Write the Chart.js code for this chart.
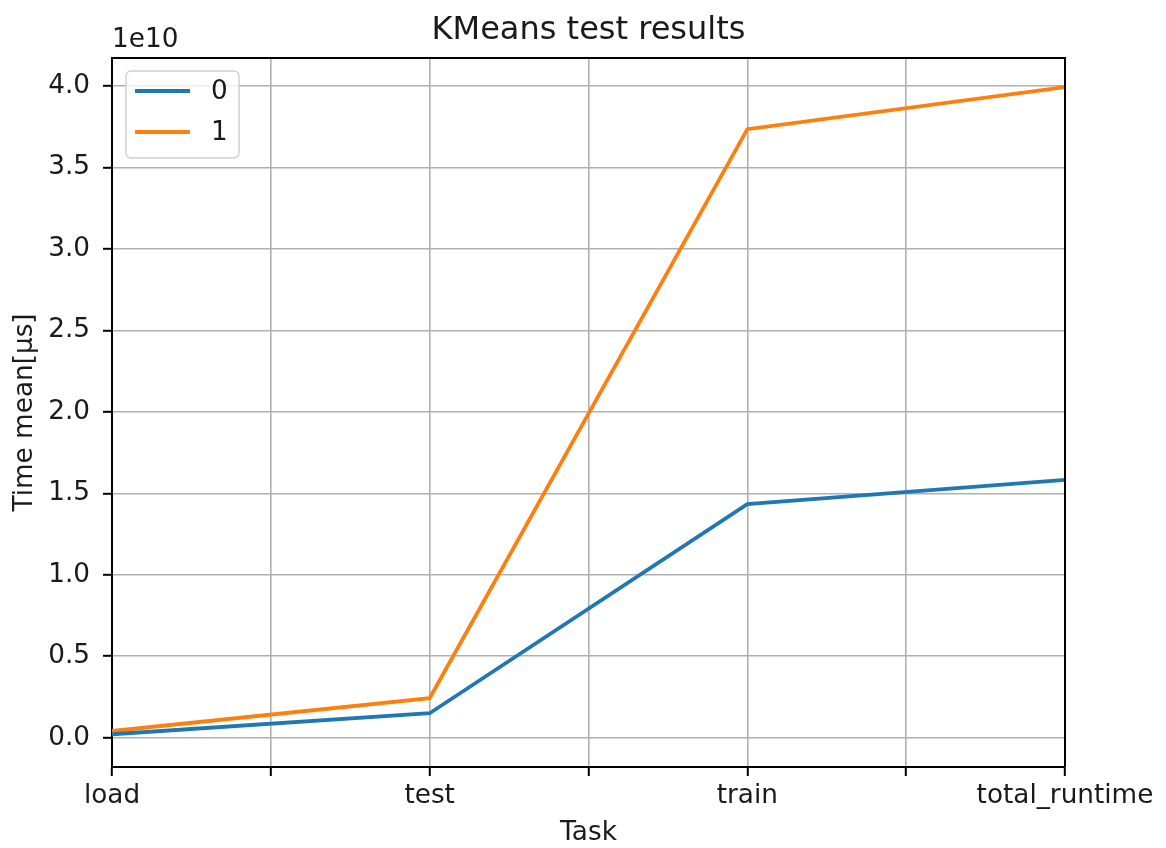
<!DOCTYPE html>
<html>
<head>
<meta charset="utf-8">
<title>KMeans test results</title>
<script src="https://cdn.jsdelivr.net/npm/chart.js@4/dist/chart.umd.min.js"></script>
<style>
  html, body { margin: 0; padding: 0; background: #fff; }
  #wrap { width: 1166px; height: 848px; }
</style>
</head>
<body>
<div id="wrap"><canvas id="kmeansChart" width="1166" height="848"></canvas></div>
<script>
// ── Data ────────────────────────────────────────────────────
const tasks      = ["load", "test", "train", "total_runtime"];
const xTicks     = [0, 0.5, 1, 1.5, 2, 2.5, 3];
const yTicks     = [0, 0.5e10, 1e10, 1.5e10, 2e10, 2.5e10, 3e10, 3.5e10, 4e10];
const series0    = [2.1e8, 1.50e9, 1.433e10, 1.582e10];
const series1    = [4.1e8, 2.42e9, 3.735e10, 3.993e10];
const seriesNames = ["0", "1"];

const FONT = "DejaVu Sans";
const TEXT = "#1a1a1a";
const GRID = "#b0b0b0";
const FS   = 26.3;

const toPoints = vals => vals.map((v, i) => ({ x: i, y: v }));

// ── Extras: title, offset text, full frame, legend box ──────
const mplExtras = {
  id: "mplExtras",
  afterDatasetsDraw(chart) {
    const { ctx, chartArea: a } = chart;
    ctx.save();

    // frame (top + right spines)
    ctx.strokeStyle = "#000";
    ctx.lineWidth = 2;
    ctx.beginPath();
    ctx.moveTo(a.left, a.top);
    ctx.lineTo(a.right, a.top);
    ctx.lineTo(a.right, a.bottom);
    ctx.stroke();

    // title
    ctx.fillStyle = TEXT;
    ctx.font = `32px "${FONT}"`;
    ctx.textAlign = "center";
    ctx.textBaseline = "alphabetic";
    ctx.fillText("KMeans test results", (a.left + a.right) / 2, a.top - 19);

    // offset text
    ctx.font = `${FS}px "${FONT}"`;
    ctx.textAlign = "left";
    ctx.fillText("1e10", a.left, a.top - 11);

    // legend
    const bx = a.left + 14, by = a.top + 13, bw = 113, bh = 87;
    ctx.fillStyle = "rgba(255,255,255,0.8)";
    ctx.strokeStyle = "#d0d0d0";
    ctx.lineWidth = 1.5;
    ctx.beginPath();
    ctx.roundRect(bx, by, bw, bh, 5);
    ctx.fill();
    ctx.stroke();

    chart.data.datasets.forEach((ds, i) => {
      const y = by + 20 + i * 41;
      ctx.strokeStyle = ds.borderColor;
      ctx.lineWidth = 3.8;
      ctx.beginPath();
      ctx.moveTo(bx + 9, y);
      ctx.lineTo(bx + 64, y);
      ctx.stroke();
      ctx.fillStyle = TEXT;
      ctx.font = `${FS}px "${FONT}"`;
      ctx.textAlign = "left";
      ctx.textBaseline = "middle";
      ctx.fillText(ds.label, bx + 85, y + 1);
    });

    ctx.restore();
  }
};

new Chart(document.getElementById("kmeansChart"), {
  type: "line",
  data: {
    datasets: [
      {
        label: seriesNames[0],
        data: toPoints(series0),
        borderColor: "#1f77b4",
        borderWidth: 3.8,
        pointRadius: 0,
        tension: 0,
        fill: false
      },
      {
        label: seriesNames[1],
        data: toPoints(series1),
        borderColor: "#ff7f0e",
        borderWidth: 3.8,
        pointRadius: 0,
        tension: 0,
        fill: false
      }
    ]
  },
  options: {
    responsive: false,
    animation: false,
    layout: { padding: { top: 58, right: 101, left: 0, bottom: 0 } },
    plugins: {
      legend: { display: false },
      title: { display: false },
      tooltip: { enabled: false }
    },
    scales: {
      x: {
        type: "linear",
        min: 0,
        max: 3,
        afterBuildTicks: s => { s.ticks = xTicks.map(v => ({ value: v })); },
        afterFit: s => { s.height = 81; },
        grid: { color: GRID, lineWidth: 1.6, tickLength: 9, tickColor: "#000", tickWidth: 2 },
        border: { color: "#000", width: 2 },
        ticks: {
          autoSkip: false,
          maxRotation: 0,
          padding: 4,
          color: TEXT,
          font: { family: FONT, size: FS },
          callback: v => Number.isInteger(v) ? tasks[v] : ""
        },
        title: {
          display: true,
          text: "Task",
          color: TEXT,
          font: { family: FONT, size: FS },
          padding: { top: 0, bottom: -1 }
        }
      },
      y: {
        min: -0.18e10,
        max: 4.172e10,
        afterBuildTicks: s => { s.ticks = yTicks.map(v => ({ value: v })); },
        afterFit: s => { s.width = 112; },
        grid: { color: GRID, lineWidth: 1.6, tickLength: 9, tickColor: "#000", tickWidth: 2 },
        border: { color: "#000", width: 2 },
        ticks: {
          padding: 13,
          color: TEXT,
          font: { family: FONT, size: FS },
          callback: v => (v / 1e10).toFixed(1)
        },
        title: {
          display: true,
          text: "Time mean[µs]",
          color: TEXT,
          font: { family: FONT, size: FS },
          padding: { top: 9, bottom: 0 }
        }
      }
    }
  },
  plugins: [mplExtras]
});
</script>
</body>
</html>
